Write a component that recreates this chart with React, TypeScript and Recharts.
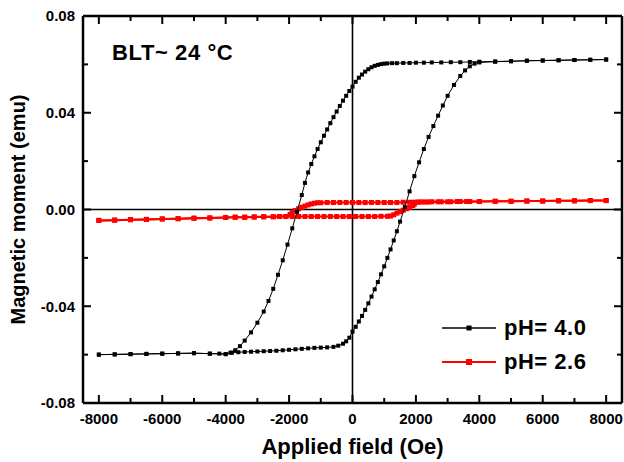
import { ReferenceLine, Scatter, ScatterChart, XAxis, YAxis } from 'recharts'

const FONT = '"Liberation Sans", Arial, Helvetica, sans-serif'

const X_TICKS = [-8000, -7000, -6000, -5000, -4000, -3000, -2000, -1000, 0, 1000, 2000, 3000, 4000, 5000, 6000, 7000, 8000]
const Y_TICKS = [-0.08, -0.06, -0.04, -0.02, 0, 0.02, 0.04, 0.06, 0.08]

// [field (Oe), moment (emu)], one array per sweep
const PH40_DOWN: [number, number][] = [
  [8000, 0.062], [7500, 0.0619], [7000, 0.0618], [6500, 0.0617], [6000, 0.0616], [5500, 0.0615],
  [5000, 0.0613], [4500, 0.0612], [4000, 0.0611], [3700, 0.061], [3400, 0.0609], [3100, 0.0609],
  [2800, 0.0608], [2500, 0.0608], [2250, 0.0607], [2000, 0.0607], [1800, 0.0606], [1600, 0.0606],
  [1400, 0.0605], [1250, 0.0605], [1100, 0.0604], [1000, 0.0603], [900, 0.0601], [800, 0.0598],
  [700, 0.0594], [600, 0.0588], [500, 0.058], [400, 0.057], [300, 0.0558], [200, 0.0545],
  [100, 0.0528], [0, 0.0508], [-100, 0.049], [-200, 0.047], [-300, 0.045], [-400, 0.0428],
  [-500, 0.0405], [-600, 0.0382], [-700, 0.0357], [-800, 0.0331], [-900, 0.0305], [-1000, 0.0278],
  [-1100, 0.025], [-1200, 0.022], [-1300, 0.0188], [-1400, 0.0153], [-1500, 0.011], [-1600, 0.006],
  [-1750, -0.001], [-1900, -0.0078], [-2050, -0.0145], [-2200, -0.021], [-2350, -0.027], [-2500, -0.0328],
  [-2650, -0.0378], [-2800, -0.0422], [-3000, -0.0468], [-3200, -0.0508], [-3400, -0.0542], [-3550, -0.0565],
  [-3700, -0.0582], [-3850, -0.0592], [-4000, -0.0598], [-4200, -0.0596], [-4500, -0.0596], [-5000, -0.0594],
  [-5500, -0.0595], [-6000, -0.0596], [-6500, -0.0597], [-7000, -0.0598], [-7500, -0.0599], [-8000, -0.06],
]

const PH40_UP: [number, number][] = [
  [-8000, -0.06], [-7500, -0.0599], [-7000, -0.0598], [-6500, -0.0597], [-6000, -0.0596], [-5500, -0.0595],
  [-5000, -0.0594], [-4500, -0.0596], [-4000, -0.0598], [-3800, -0.0592], [-3600, -0.059], [-3400, -0.0589],
  [-3200, -0.0588], [-3000, -0.0587], [-2800, -0.0586], [-2600, -0.0585], [-2400, -0.0584], [-2200, -0.0582],
  [-2000, -0.058], [-1800, -0.0578], [-1600, -0.0576], [-1400, -0.0574], [-1200, -0.0572], [-1000, -0.0571],
  [-800, -0.057], [-600, -0.0568], [-450, -0.0563], [-300, -0.0555], [-200, -0.0545], [-100, -0.053],
  [0, -0.0505], [100, -0.0485], [200, -0.0463], [300, -0.044], [400, -0.0415], [500, -0.0388],
  [600, -0.036], [700, -0.033], [800, -0.03], [900, -0.0268], [1000, -0.0235], [1100, -0.02],
  [1200, -0.0165], [1300, -0.0128], [1400, -0.009], [1500, -0.005], [1650, 0.001], [1800, 0.0075],
  [1950, 0.0138], [2100, 0.0195], [2250, 0.025], [2400, 0.03], [2550, 0.0345], [2700, 0.0388],
  [2850, 0.043], [3000, 0.047], [3200, 0.0515], [3400, 0.0552], [3550, 0.0575], [3700, 0.0592],
  [3850, 0.0603], [4000, 0.0608], [4500, 0.0611], [5000, 0.0613], [5500, 0.0615], [6000, 0.0616],
  [6500, 0.0617], [7000, 0.0618], [7500, 0.0619], [8000, 0.062],
]

const PH26_DOWN: [number, number][] = [
  [8000, 0.0037], [7500, 0.0037], [7000, 0.0036], [6500, 0.0036], [6000, 0.0035], [5500, 0.0035],
  [5000, 0.0034], [4500, 0.0034], [4000, 0.0033], [3700, 0.0033], [3400, 0.0033], [3100, 0.0032],
  [2800, 0.0032], [2500, 0.0032], [2300, 0.0031], [2100, 0.0031], [1950, 0.003], [1800, 0.003],
  [1600, 0.003], [1400, 0.0029], [1200, 0.0029], [1000, 0.0029], [800, 0.0029], [600, 0.0029],
  [400, 0.0029], [200, 0.0029], [0, 0.0029], [-200, 0.0029], [-400, 0.0029], [-600, 0.0029],
  [-800, 0.0029], [-1000, 0.0028], [-1100, 0.0028], [-1200, 0.0026], [-1300, 0.0023], [-1400, 0.0019],
  [-1500, 0.0014], [-1600, 0.0009], [-1700, 0.0003], [-1800, -0.0004], [-1900, -0.0012], [-1970, -0.002],
  [-2100, -0.0029], [-2300, -0.0029], [-2500, -0.003], [-2800, -0.003], [-3100, -0.0031], [-3400, -0.0032],
  [-3700, -0.0032], [-4000, -0.0033], [-4500, -0.0035], [-5000, -0.0036], [-5500, -0.0038], [-6000, -0.0039],
  [-6500, -0.0041], [-7000, -0.0042], [-7500, -0.0044], [-8000, -0.0045],
]

const PH26_UP: [number, number][] = [
  [-8000, -0.0045], [-7500, -0.0044], [-7000, -0.0042], [-6500, -0.0041], [-6000, -0.0039], [-5500, -0.0038],
  [-5000, -0.0036], [-4500, -0.0035], [-4000, -0.0033], [-3700, -0.0032], [-3400, -0.0032], [-3100, -0.0031],
  [-2800, -0.003], [-2500, -0.003], [-2300, -0.0029], [-2100, -0.0029], [-1900, -0.0029], [-1700, -0.0029],
  [-1500, -0.0029], [-1300, -0.0029], [-1100, -0.0029], [-900, -0.0029], [-700, -0.0029], [-500, -0.0029],
  [-300, -0.0029], [-100, -0.0029], [100, -0.0029], [300, -0.0029], [500, -0.0029], [700, -0.0029],
  [900, -0.0028], [1100, -0.0028], [1200, -0.0027], [1300, -0.0022], [1400, -0.0015], [1500, -0.0009],
  [1600, -0.0003], [1700, 0.0003], [1800, 0.0009], [1900, 0.0016], [1950, 0.0022], [2050, 0.003],
  [2200, 0.0031], [2400, 0.0031], [2700, 0.0032], [3000, 0.0032], [3300, 0.0033], [3600, 0.0033],
  [4000, 0.0033], [4500, 0.0034], [5000, 0.0034], [5500, 0.0035], [6000, 0.0035], [6500, 0.0036],
  [7000, 0.0036], [7500, 0.0037], [8000, 0.0037],
]

const LEGEND = [
  { name: 'pH= 4.0', color: '#000000', width: 1.5, mark: 5 },
  { name: 'pH= 2.6', color: '#ff0000', width: 2, mark: 6 },
]

const toPoints = (rows: [number, number][]) => rows.map(([x, y]) => ({ x, y }))

const AXIS_LINE = { stroke: '#000', strokeWidth: 2.5 }
const MAJOR = 8
const MINOR = 5
const isMajorX = (v: number) => Math.round(v / 1000) % 2 === 0
const isMajorY = (v: number) => Math.round(v * 100) % 4 === 0

const labelText = {
  fontFamily: FONT,
  fontWeight: 'bold' as const,
  fontSize: 15,
  fill: '#000',
}

function BottomTick(props: any) {
  const { x, y, payload } = props
  const major = isMajorX(payload.value)
  const base = y - 16
  return (
    <g>
      <line x1={x} x2={x} y1={base} y2={base - (major ? MAJOR : MINOR)} stroke="#000" strokeWidth={2} />
      {major && (
        <text x={x} y={y} dy="0.36em" textAnchor="middle" {...labelText}>
          {payload.value}
        </text>
      )}
    </g>
  )
}

function TopTick(props: any) {
  const { x, y, payload } = props
  const len = isMajorX(payload.value) ? MAJOR : MINOR
  return <line x1={x} x2={x} y1={y} y2={y + len} stroke="#000" strokeWidth={2} />
}

function LeftTick(props: any) {
  const { x, y, payload } = props
  const major = isMajorY(payload.value)
  const base = x + 8
  return (
    <g>
      <line x1={base} x2={base + (major ? MAJOR : MINOR)} y1={y} y2={y} stroke="#000" strokeWidth={2} />
      {major && (
        <text x={x} y={y} dy="0.36em" textAnchor="end" {...labelText}>
          {payload.value.toFixed(2)}
        </text>
      )}
    </g>
  )
}

function RightTick(props: any) {
  const { x, y, payload } = props
  const len = isMajorY(payload.value) ? MAJOR : MINOR
  return <line x1={x} x2={x - len} y1={y} y2={y} stroke="#000" strokeWidth={2} />
}

const blackMark = (p: any) => <rect x={p.cx - 2} y={p.cy - 2} width={4} height={4} fill="#000" />
const redMark = (p: any) => <rect x={p.cx - 2.5} y={p.cy - 2.5} width={5} height={5} fill="#ff0000" />

export default function App() {
  return (
    <div style={{ position: 'absolute', left: 0, top: 0, width: 624, height: 462, background: '#fff' }}>
      <ScatterChart width={624} height={462} margin={{ top: 0, right: 0, bottom: 0, left: 0 }}>
        <XAxis
          type="number"
          dataKey="x"
          domain={[-8500, 8500]}
          ticks={X_TICKS}
          interval={0}
          height={59}
          tickSize={0}
          tickMargin={16}
          tick={(p: any) => <BottomTick {...p} />}
          axisLine={AXIS_LINE}
          allowDataOverflow
          label={{
            value: 'Applied field (Oe)',
            position: 'insideBottom',
            offset: 8,
            fontFamily: FONT,
            fontWeight: 'bold',
            fontSize: 22,
            fill: '#000',
          }}
        />
        <XAxis
          xAxisId="top"
          orientation="top"
          type="number"
          dataKey="x"
          domain={[-8500, 8500]}
          ticks={X_TICKS}
          interval={0}
          height={16}
          tickSize={0}
          tickMargin={0}
          tick={(p: any) => <TopTick {...p} />}
          axisLine={AXIS_LINE}
          allowDataOverflow
        />
        <YAxis
          type="number"
          dataKey="y"
          domain={[-0.08, 0.08]}
          ticks={Y_TICKS}
          interval={0}
          width={83}
          tickSize={0}
          tickMargin={8}
          tick={(p: any) => <LeftTick {...p} />}
          axisLine={AXIS_LINE}
          allowDataOverflow
          label={{
            value: 'Magnetic moment (emu)',
            angle: -90,
            position: 'insideLeft',
            offset: 18,
            fontFamily: FONT,
            fontWeight: 'bold',
            fontSize: 20,
            fill: '#000',
            style: { textAnchor: 'middle' },
          }}
        />
        <YAxis
          yAxisId="right"
          orientation="right"
          type="number"
          dataKey="y"
          domain={[-0.08, 0.08]}
          ticks={Y_TICKS}
          interval={0}
          width={2}
          tickSize={0}
          tickMargin={0}
          tick={(p: any) => <RightTick {...p} />}
          axisLine={AXIS_LINE}
          allowDataOverflow
        />
        <ReferenceLine x={0} stroke="#000" strokeWidth={1.6} />
        <ReferenceLine y={0} stroke="#000" strokeWidth={1.6} />
        <Scatter
          data={toPoints(PH26_DOWN)}
          shape={redMark}
          line={{ stroke: '#ff0000', strokeWidth: 2 }}
          lineType="joint"
          isAnimationActive={false}
        />
        <Scatter
          data={toPoints(PH26_UP)}
          shape={redMark}
          line={{ stroke: '#ff0000', strokeWidth: 2 }}
          lineType="joint"
          isAnimationActive={false}
        />
        <Scatter
          data={toPoints(PH40_DOWN)}
          shape={blackMark}
          line={{ stroke: '#000', strokeWidth: 1 }}
          lineType="joint"
          isAnimationActive={false}
        />
        <Scatter
          data={toPoints(PH40_UP)}
          shape={blackMark}
          line={{ stroke: '#000', strokeWidth: 1 }}
          lineType="joint"
          isAnimationActive={false}
        />
      </ScatterChart>

      <div
        style={{
          position: 'absolute',
          left: 112,
          top: 42,
          fontFamily: FONT,
          fontWeight: 'bold',
          fontSize: 22,
          lineHeight: 1,
          letterSpacing: 0.6,
          color: '#000',
          whiteSpace: 'nowrap',
        }}
      >
        BLT~ 24 °C
      </div>

      <div style={{ position: 'absolute', left: 442, top: 311, fontFamily: FONT, fontWeight: 'bold', fontSize: 22 }}>
        {LEGEND.map(item => (
          <div key={item.name} style={{ display: 'flex', alignItems: 'center', height: 34 }}>
            <svg width={54} height={10}>
              <line x1={0} y1={5} x2={54} y2={5} stroke={item.color} strokeWidth={item.width} />
              <rect x={27 - item.mark / 2} y={5 - item.mark / 2} width={item.mark} height={item.mark} fill={item.color} />
            </svg>
            <span style={{ marginLeft: 8, color: '#000', letterSpacing: 0.5 }}>{item.name}</span>
          </div>
        ))}
      </div>
    </div>
  )
}
